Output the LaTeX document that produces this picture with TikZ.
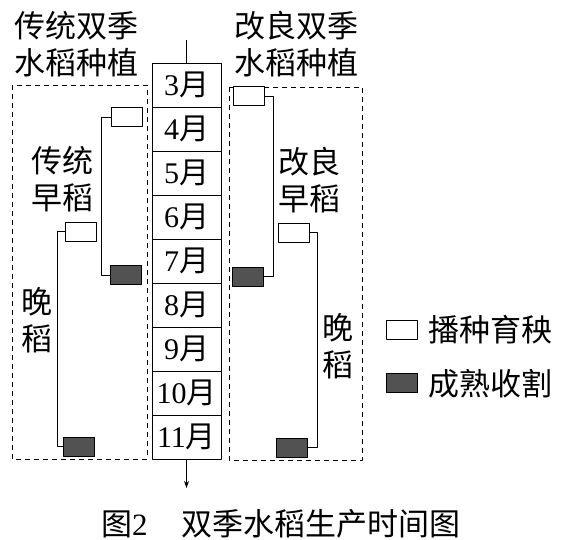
\documentclass[tikz,border=0pt]{standalone}
\usepackage{fontspec}
\setmainfont{Liberation Serif}
\newfontfamily\cjk{Noto Sans CJK SC}
\usetikzlibrary{arrows.meta}
\begin{document}
\begin{tikzpicture}[x=1pt, y=-1pt, line join=round, line width=0.8pt,
	month/.style={draw, minimum width=69pt, minimum height=44pt, inner sep=0pt, font=\fontsize{30}{32}\selectfont},
	sow/.style={draw, fill=white, minimum width=31pt, minimum height=19pt, inner sep=0pt},
	reap/.style={sow, fill=black!68},
	zone/.style={draw, dash pattern=on 5pt off 4pt, line width=0.7pt},
	txt/.style={font=\cjk\fontsize{31}{37}\selectfont, align=center, inner sep=0pt}]
	\useasboundingbox (0,0) rectangle (565,540);
	% month column
	\foreach \m [count=\i from 0] in {3,...,11}
		\node[month] (m\m) at (186.5, 85+44*\i) {\m{\cjk 月}};
	\path (186.5,40) coordinate (top) (186.5,488) coordinate (bot);
	\draw (top) -- (m3);
	\draw[-{Stealth[length=7pt,width=5pt]}] (m11) -- (bot);
	% dashed zones
	\draw[zone] (12,85) rectangle (147,459);
	\draw[zone] (229,87) rectangle (362,460);
	% titles
	\node[txt] (lt) at (76,44) {传统双季\\水稻种植};
	\node[txt] (rt) at (296,44) {改良双季\\水稻种植};
	\node[txt] (le) at (62,179) {传统\\早稻};
	\node[txt] (ll) at (37,320) {晚\\稻};
	\node[txt] (re) at (309,180) {改良\\早稻};
	\node[txt] (rl) at (338,346) {晚\\稻};
	% sowing and harvest boxes
	\foreach \n/\x/\y/\s in {te1/127/117/sow, te2/126/275/reap, tl1/81/231.5/sow, tl2/79/446.5/reap,
		ie1/248.5/96/sow, ie2/248/276.5/reap, il1/293.5/232.5/sow, il2/292/447.5/reap}
		\node[\s] (\n) at (\x,\y) {};
	\draw (te1.west) -- ++(-10,0) |- (te2.west);
	\draw (tl1.west) -- ++(-8,0) |- (tl2.west);
	\draw (ie1.east) -- ++(9,0) |- (ie2.east);
	\draw (il1.east) -- ++(8,0) |- (il2.east);
	% legend
	\node[sow] (ks) at (402,329.5) {};
	\node[reap] (kr) at (402,382.5) {};
	\node[txt, anchor=west] (kst) at (428,329.5) {播种育秧};
	\node[txt, anchor=west] (krt) at (428,384) {成熟收割};
	% caption
	\node[txt] (cap) at (281,524) {图{\rmfamily 2}\hspace{1.1em}双季水稻生产时间图};
\end{tikzpicture}
\end{document}
